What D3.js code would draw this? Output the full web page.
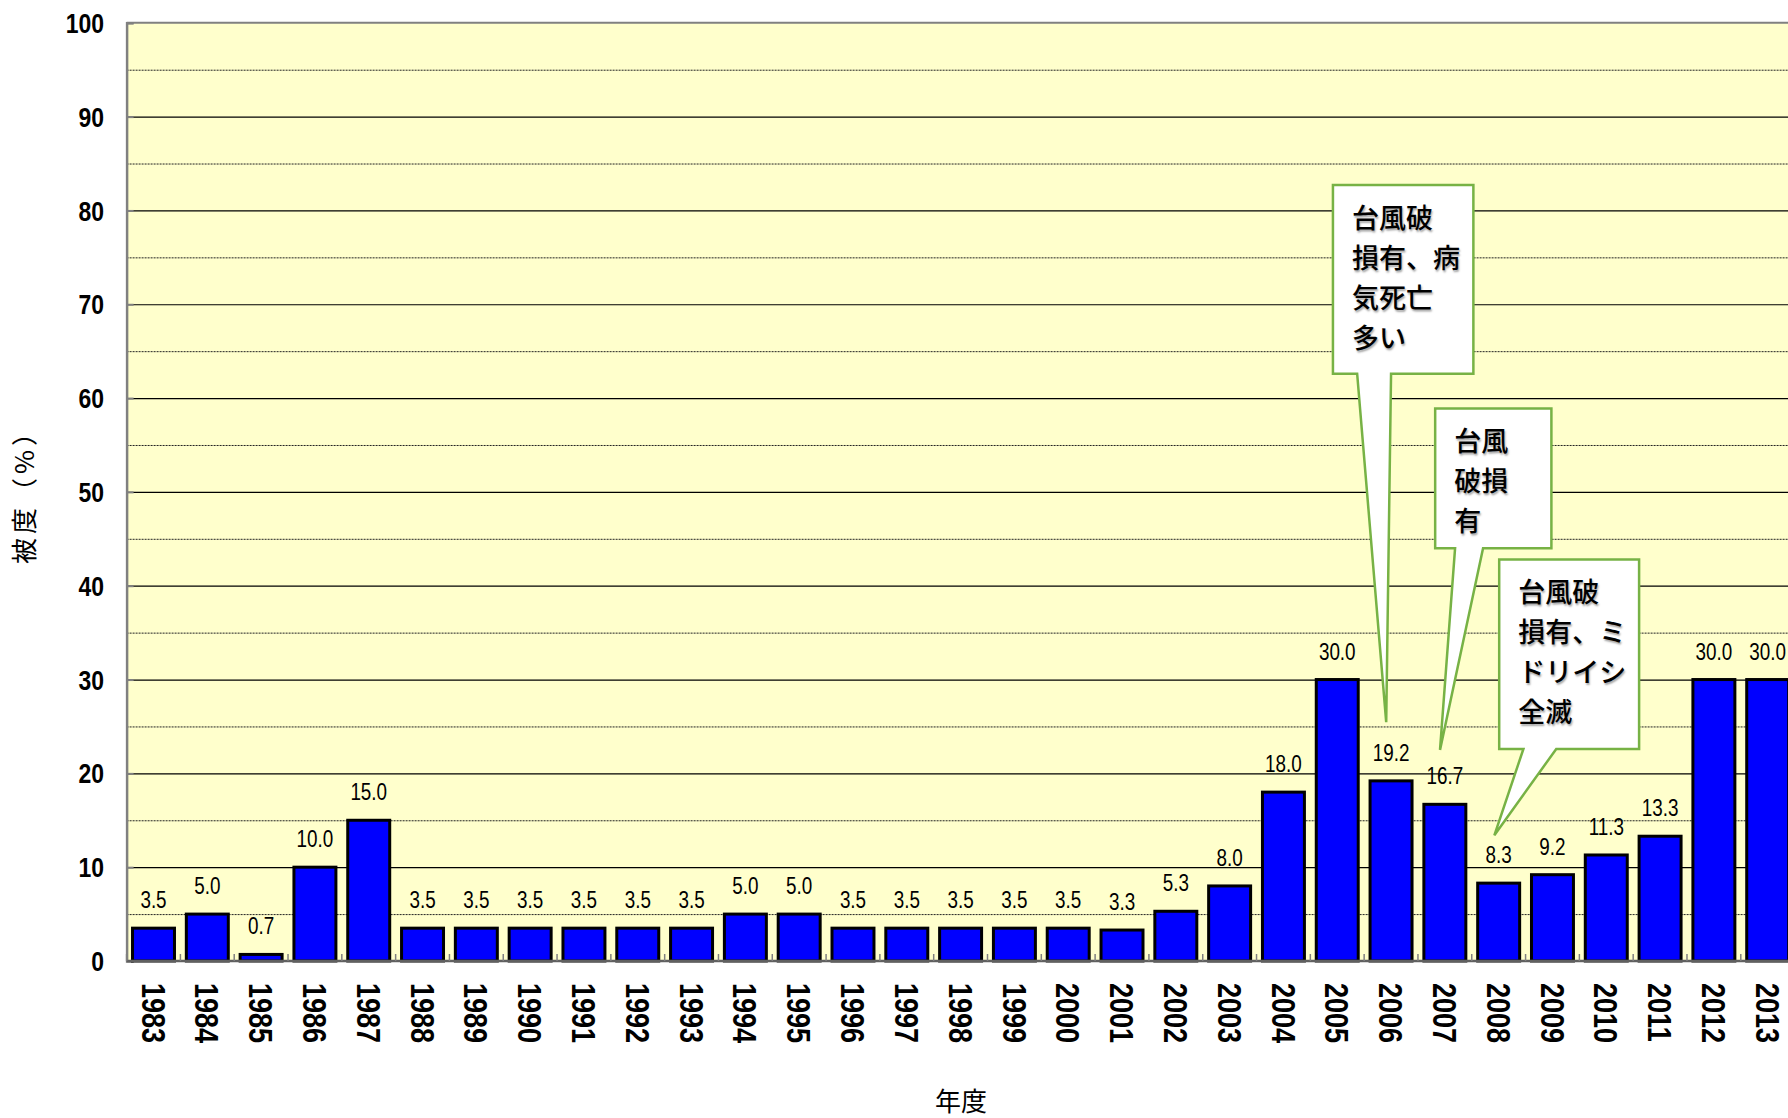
<!DOCTYPE html>
<html>
<head>
<meta charset="utf-8">
<script src="https://cdn.jsdelivr.net/npm/d3@7"></script>
<style>
  body { margin: 0; background: #fff; }
  .num { font-family: "Liberation Sans", Arial, sans-serif; }
  .jp { font-family: "Noto Sans CJK JP", sans-serif; }
  .note { text-shadow: 1px 2px 2px rgba(0,0,0,0.35); }
</style>
</head>
<body>
<div id="chart"></div>
<script>
// data
var years = [1983, 1984, 1985, 1986, 1987, 1988, 1989, 1990, 1991, 1992,
             1993, 1994, 1995, 1996, 1997, 1998, 1999, 2000, 2001, 2002,
             2003, 2004, 2005, 2006, 2007, 2008, 2009, 2010, 2011, 2012, 2013];
var coverage = [3.5, 5.0, 0.7, 10.0, 15.0, 3.5, 3.5, 3.5, 3.5, 3.5,
                3.5, 5.0, 5.0, 3.5, 3.5, 3.5, 3.5, 3.5, 3.3, 5.3,
                8.0, 18.0, 30.0, 19.2, 16.7, 8.3, 9.2, 11.3, 13.3, 30.0, 30.0];
var yTicks = [0, 10, 20, 30, 40, 50, 60, 70, 80, 90, 100];
var yMinor = [5, 15, 25, 35, 45, 55, 65, 75, 85, 95];

// callouts: box / pointer in category-index and value units
var notes = [
  {lines: ["台風破", "損有、病", "気死亡", "多い"],
   box: [22.42, 25.03, 62.6, 82.7], base: [22.87, 23.5], tip: [23.41, 25.45]},
  {lines: ["台風", "破損", "有"],
   box: [24.32, 26.48, 44.0, 58.9], base: [24.69, 25.21], tip: [24.41, 22.5]},
  {lines: ["台風破", "損有、ミ", "ドリイシ", "全滅"],
   box: [25.51, 28.11, 22.6, 42.8], base: [25.96, 26.57], tip: [25.42, 13.4]}
];

var W = 1788, H = 1118;
var plot = {left: 126.6, right: 1794.6, top: 22.8, bottom: 961};
var narrow = " scale(0.82,1)";   // no narrow font installed, squeeze the digits

var svg = d3.select("#chart").append("svg")
    .attr("width", W)
    .attr("height", H);

var x = d3.scaleBand().domain(years)
    .range([plot.left, plot.right])
    .paddingInner(0.22).paddingOuter(0.11);
var xi = d3.scaleLinear().domain([0, years.length]).range([plot.left, plot.right]);
var y = d3.scaleLinear().domain([0, 100]).range([plot.bottom, plot.top]);

// plot background
svg.append("rect")
    .attr("x", plot.left).attr("y", plot.top)
    .attr("width", plot.right - plot.left)
    .attr("height", plot.bottom - plot.top)
    .attr("fill", "#ffffcc");

// gridlines
svg.append("g").selectAll("line")
    .data(yMinor)
  .enter().append("line")
    .attr("x1", plot.left).attr("x2", plot.right)
    .attr("y1", function(d) { return y(d) + 0.5; })
    .attr("y2", function(d) { return y(d) + 0.5; })
    .attr("stroke", "#222")
    .attr("stroke-width", 1)
    .attr("stroke-dasharray", "2,1");

svg.append("g").selectAll("line")
    .data(yTicks.filter(function(d) { return d > 0 && d < 100; }))
  .enter().append("line")
    .attr("x1", plot.left).attr("x2", plot.right)
    .attr("y1", function(d) { return y(d) + 0.5; })
    .attr("y2", function(d) { return y(d) + 0.5; })
    .attr("stroke", "#000")
    .attr("stroke-width", 1.2);

// top border
svg.append("line")
    .attr("x1", plot.left).attr("x2", plot.right)
    .attr("y1", plot.top).attr("y2", plot.top)
    .attr("stroke", "#808080").attr("stroke-width", 2);

// y axis
var yAxis = svg.append("g")
    .attr("transform", "translate(" + plot.left + ",0)")
    .call(d3.axisRight(y).tickValues(yTicks).tickSize(7).tickFormat(""));
yAxis.select(".domain").attr("stroke", "#808080").attr("stroke-width", 2.5);
yAxis.selectAll(".tick line").attr("stroke", "#808080").attr("stroke-width", 2);

svg.append("g").selectAll("text")
    .data(yTicks)
  .enter().append("text")
    .attr("class", "num")
    .attr("transform", function(d) { return "translate(104," + y(d) + ")" + narrow; })
    .attr("dy", "0.36em")
    .attr("text-anchor", "end")
    .attr("font-size", 28)
    .attr("font-weight", "bold")
    .text(function(d) { return d; });

// bars
svg.append("g").selectAll("rect")
    .data(coverage)
  .enter().append("rect")
    .attr("x", function(d, i) { return x(years[i]); })
    .attr("y", function(d) { return y(d); })
    .attr("width", x.bandwidth())
    .attr("height", function(d) { return y(0) - y(d); })
    .attr("fill", "#0000ff")
    .attr("stroke", "#000")
    .attr("stroke-width", 3);

// x axis
var xAxis = svg.append("g")
    .attr("transform", "translate(0," + plot.bottom + ")");
xAxis.append("line")
    .attr("x1", plot.left).attr("x2", plot.right)
    .attr("stroke", "#606060").attr("stroke-width", 2.5);
xAxis.selectAll(".tk")
    .data(d3.range(years.length + 1))
  .enter().append("line")
    .attr("class", "tk")
    .attr("x1", function(d) { return xi(d); })
    .attr("x2", function(d) { return xi(d); })
    .attr("y1", 0).attr("y2", -7)
    .attr("stroke", "#808080").attr("stroke-width", 1.5);

svg.append("g").selectAll("text")
    .data(years)
  .enter().append("text")
    .attr("class", "num")
    .attr("transform", function(d) {
      return "translate(" + (x(d) + x.bandwidth() / 2) + "," + (plot.bottom + 22) + ") rotate(90)" + narrow;
    })
    .attr("dy", "0.36em")
    .attr("font-size", 33)
    .attr("font-weight", "bold")
    .text(function(d) { return d; });

// value labels
svg.append("g").selectAll("text")
    .data(coverage)
  .enter().append("text")
    .attr("class", "num")
    .attr("transform", function(d, i) {
      return "translate(" + (x(years[i]) + x.bandwidth() / 2) + "," + (y(d) - 20) + ")" + narrow;
    })
    .attr("text-anchor", "middle")
    .attr("font-size", 23)
    .text(function(d) { return d.toFixed(1); });

// axis titles
svg.append("text")
    .attr("class", "jp")
    .attr("transform", "translate(34,490) rotate(-90)")
    .attr("text-anchor", "middle")
    .attr("font-size", 26)
    .attr("letter-spacing", 4)
    .text("被度（%）");

svg.append("text")
    .attr("class", "jp")
    .attr("x", 961).attr("y", 1111)
    .attr("text-anchor", "middle")
    .attr("font-size", 26)
    .text("年度");

// callouts
var callout = svg.append("g").selectAll("g")
    .data(notes)
  .enter().append("g");

callout.append("path")
    .attr("d", function(d) {
      var l = xi(d.box[0]), r = xi(d.box[1]), b = y(d.box[2]), t = y(d.box[3]);
      return "M" + l + "," + t + "L" + r + "," + t + "L" + r + "," + b +
        "L" + xi(d.base[1]) + "," + b +
        "L" + xi(d.tip[0]) + "," + y(d.tip[1]) +
        "L" + xi(d.base[0]) + "," + b +
        "L" + l + "," + b + "Z";
    })
    .attr("fill", "#fff")
    .attr("stroke", "#77b245")
    .attr("stroke-width", 2.5)
    .attr("stroke-linejoin", "miter");

callout.each(function(d) {
  var g = d3.select(this);
  d.lines.forEach(function(s, k) {
    g.append("text")
      .attr("class", "jp note")
      .attr("x", xi(d.box[0]) + 19)
      .attr("y", y(d.box[3]) + 43 + k * 40)
      .attr("font-size", 27)
      .attr("font-weight", 500)
      .text(s);
  });
});
</script>
</body>
</html>
